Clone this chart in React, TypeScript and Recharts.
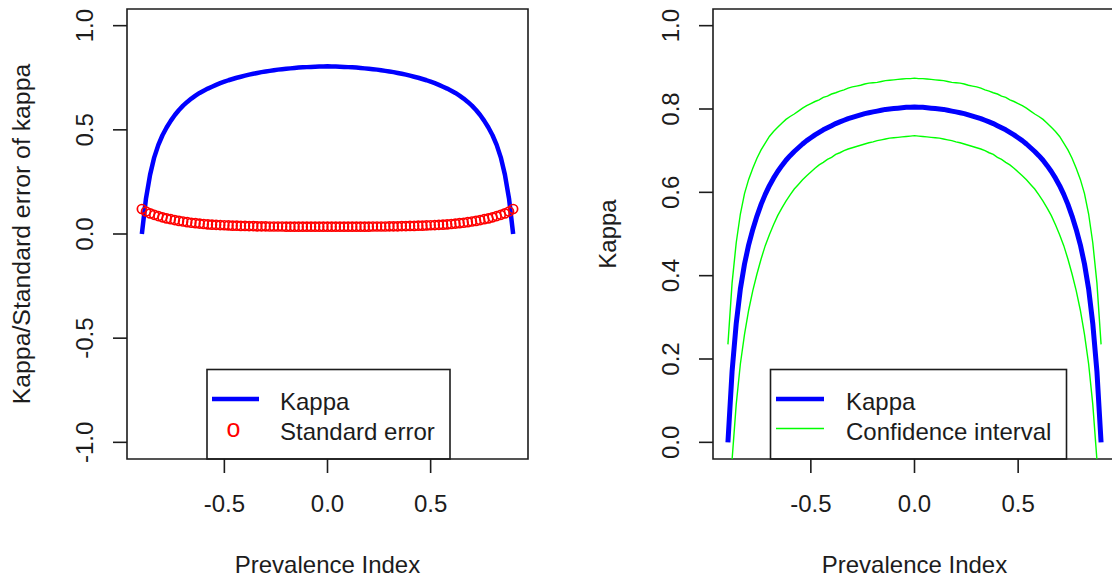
import React from 'react';
import { ComposedChart, Line, XAxis, YAxis, ReferenceArea, Customized } from 'recharts';

// prevalence index grid (step 0.02)
const prevalenceIndex = [
  -0.90, -0.88, -0.86, -0.84, -0.82, -0.80, -0.78, -0.76, -0.74, -0.72,
  -0.70, -0.68, -0.66, -0.64, -0.62, -0.60, -0.58, -0.56, -0.54, -0.52,
  -0.50, -0.48, -0.46, -0.44, -0.42, -0.40, -0.38, -0.36, -0.34, -0.32,
  -0.30, -0.28, -0.26, -0.24, -0.22, -0.20, -0.18, -0.16, -0.14, -0.12,
  -0.10, -0.08, -0.06, -0.04, -0.02, 0.00, 0.02, 0.04, 0.06, 0.08,
  0.10, 0.12, 0.14, 0.16, 0.18, 0.20, 0.22, 0.24, 0.26, 0.28,
  0.30, 0.32, 0.34, 0.36, 0.38, 0.40, 0.42, 0.44, 0.46, 0.48,
  0.50, 0.52, 0.54, 0.56, 0.58, 0.60, 0.62, 0.64, 0.66, 0.68,
  0.70, 0.72, 0.74, 0.76, 0.78, 0.80, 0.82, 0.84, 0.86, 0.88,
  0.90,
];

const kappa = [
  0.000, 0.170, 0.285, 0.368, 0.428, 0.474, 0.511, 0.543, 0.571, 0.595,
  0.616, 0.634, 0.650, 0.664, 0.677, 0.688, 0.698, 0.707, 0.716, 0.724,
  0.731, 0.738, 0.744, 0.750, 0.755, 0.760, 0.765, 0.769, 0.773, 0.777,
  0.780, 0.783, 0.786, 0.789, 0.791, 0.793, 0.795, 0.797, 0.799, 0.800,
  0.801, 0.802, 0.803, 0.804, 0.804, 0.805, 0.804, 0.804, 0.803, 0.802,
  0.801, 0.800, 0.799, 0.797, 0.795, 0.793, 0.791, 0.789, 0.786, 0.783,
  0.780, 0.777, 0.773, 0.769, 0.765, 0.760, 0.755, 0.750, 0.744, 0.738,
  0.731, 0.724, 0.716, 0.707, 0.698, 0.688, 0.677, 0.664, 0.650, 0.634,
  0.616, 0.595, 0.571, 0.543, 0.511, 0.474, 0.428, 0.368, 0.285, 0.170,
  0.000,
];

const kappaSE = [
  0.120, 0.108, 0.099, 0.092, 0.086, 0.080, 0.075, 0.071, 0.067, 0.063,
  0.060, 0.057, 0.054, 0.052, 0.050, 0.048, 0.046, 0.045, 0.044, 0.043,
  0.042, 0.041, 0.040, 0.040, 0.039, 0.039, 0.038, 0.038, 0.037, 0.037,
  0.037, 0.036, 0.036, 0.036, 0.036, 0.035, 0.035, 0.035, 0.035, 0.035,
  0.035, 0.035, 0.035, 0.035, 0.035, 0.035, 0.035, 0.035, 0.035, 0.035,
  0.035, 0.035, 0.035, 0.035, 0.035, 0.035, 0.036, 0.036, 0.036, 0.036,
  0.037, 0.037, 0.037, 0.038, 0.038, 0.039, 0.039, 0.040, 0.040, 0.041,
  0.042, 0.043, 0.044, 0.045, 0.046, 0.048, 0.050, 0.052, 0.054, 0.057,
  0.060, 0.063, 0.067, 0.071, 0.075, 0.080, 0.086, 0.092, 0.099, 0.108,
  0.120,
];

const ciUpper = [
  0.235, 0.382, 0.479, 0.548, 0.597, 0.631, 0.658, 0.682, 0.702, 0.718,
  0.734, 0.746, 0.756, 0.766, 0.775, 0.782, 0.788, 0.795, 0.802, 0.808,
  0.813, 0.818, 0.822, 0.828, 0.831, 0.836, 0.839, 0.843, 0.846, 0.850,
  0.853, 0.855, 0.857, 0.860, 0.862, 0.863, 0.864, 0.866, 0.868, 0.869,
  0.870, 0.871, 0.872, 0.873, 0.873, 0.874, 0.873, 0.873, 0.872, 0.871,
  0.870, 0.869, 0.868, 0.866, 0.864, 0.863, 0.862, 0.860, 0.857, 0.855,
  0.853, 0.850, 0.846, 0.843, 0.839, 0.836, 0.831, 0.828, 0.822, 0.818,
  0.813, 0.808, 0.802, 0.795, 0.788, 0.782, 0.775, 0.766, 0.756, 0.746,
  0.734, 0.718, 0.702, 0.682, 0.658, 0.631, 0.597, 0.548, 0.479, 0.382,
  0.235,
];

const ciLower = [
  -0.235, -0.042, 0.091, 0.188, 0.259, 0.317, 0.364, 0.404, 0.440, 0.472,
  0.498, 0.522, 0.544, 0.562, 0.579, 0.594, 0.608, 0.619, 0.630, 0.640,
  0.649, 0.658, 0.666, 0.672, 0.679, 0.684, 0.691, 0.695, 0.700, 0.704,
  0.707, 0.710, 0.713, 0.716, 0.719, 0.721, 0.724, 0.726, 0.728, 0.730,
  0.731, 0.732, 0.733, 0.734, 0.735, 0.736, 0.735, 0.734, 0.733, 0.732,
  0.731, 0.730, 0.728, 0.726, 0.724, 0.721, 0.719, 0.716, 0.713, 0.710,
  0.707, 0.704, 0.700, 0.695, 0.691, 0.684, 0.679, 0.672, 0.666, 0.658,
  0.649, 0.640, 0.630, 0.619, 0.608, 0.594, 0.579, 0.562, 0.544, 0.522,
  0.498, 0.472, 0.440, 0.404, 0.364, 0.317, 0.259, 0.188, 0.091, -0.042,
  -0.235,
];

const xTicks = [-0.5, 0, 0.5];
const leftYTicks = [-1, -0.5, 0, 0.5, 1];
const rightYTicks = [0, 0.2, 0.4, 0.6, 0.8, 1];

const rows = prevalenceIndex.map((pi, i) => ({
  pi,
  kappa: kappa[i],
  se: kappaSE[i],
  upper: ciUpper[i],
  lower: ciLower[i],
}));

const FONT = '"Liberation Sans", Arial, Helvetica, sans-serif';
const INK = '#1c1c1c';
const X_DOMAIN: [number, number] = [-0.972, 0.972];
const LEFT_Y: [number, number] = [-1.08, 1.08];
const RIGHT_Y: [number, number] = [-0.04, 1.04];

const XTick = (props: any) => {
  const { x, y, payload } = props;
  return (
    <text x={x} y={y + 39} textAnchor="middle" fontSize={24} fontFamily={FONT} fill={INK}>
      {Number(payload.value).toFixed(1)}
    </text>
  );
};

// R style: y labels run parallel to the axis
const YTick = (props: any) => {
  const { x, y, payload } = props;
  const bx = x - 20;
  return (
    <text x={bx} y={y} transform={`rotate(-90 ${bx} ${y})`} textAnchor="middle" fontSize={24} fontFamily={FONT} fill={INK}>
      {Number(payload.value).toFixed(1)}
    </text>
  );
};

const tickLine = { stroke: INK, strokeWidth: 1.6 };

const LeftDecor = () => (
  <g fontFamily={FONT} fontSize={24} fill={INK}>
    <text x={327.5} y={573} textAnchor="middle">Prevalence Index</text>
    <text x={30} y={234} transform="rotate(-90 30 234)" textAnchor="middle" fontSize={24.8}>
      Kappa/Standard error of kappa
    </text>
    <rect x={207} y={369.5} width={243} height={89.5} fill="#fff" stroke={INK} strokeWidth={1.6} />
    <line x1={212} x2={259} y1={399} y2={399} stroke="#0000ff" strokeWidth={4.5} />
    <text x={233.5} y={436.5} textAnchor="middle" fill="#ff0000" fontSize={25}>o</text>
    <text x={280} y={410}>Kappa</text>
    <text x={280} y={440}>Standard error</text>
  </g>
);

const RightDecor = () => (
  <g fontFamily={FONT} fontSize={24} fill={INK}>
    <text x={358.5} y={573} textAnchor="middle">Prevalence Index</text>
    <text x={60} y={234} transform="rotate(-90 60 234)" textAnchor="middle">Kappa</text>
    <rect x={214.5} y={369.5} width={296} height={89.5} fill="#fff" stroke={INK} strokeWidth={1.6} />
    <line x1={220} x2={268} y1={399} y2={399} stroke="#0000ff" strokeWidth={4.5} />
    <line x1={220} x2={268} y1={428.5} y2={428.5} stroke="#00ff00" strokeWidth={1.4} />
    <text x={290} y={410}>Kappa</text>
    <text x={290} y={440}>Confidence interval</text>
  </g>
);

export default function App() {
  return (
    <div style={{ position: 'absolute', left: 0, top: 0, width: 1112, height: 580, overflow: 'hidden', background: '#fff' }}>
      <div style={{ position: 'absolute', left: 0, top: 0 }}>
        <ComposedChart width={556} height={580} data={rows} margin={{ top: 9, right: 28, bottom: 0, left: 0 }}>
          <XAxis dataKey="pi" type="number" domain={X_DOMAIN} allowDataOverflow ticks={xTicks} interval={0}
            height={121} tickSize={14} tickMargin={0} axisLine={false} tickLine={tickLine} tick={<XTick />} />
          <YAxis type="number" domain={LEFT_Y} allowDataOverflow ticks={leftYTicks} interval={0}
            width={127} tickSize={14} tickMargin={0} axisLine={false} tickLine={tickLine} tick={<YTick />} />
          <ReferenceArea x1={X_DOMAIN[0]} x2={X_DOMAIN[1]} y1={LEFT_Y[0]} y2={LEFT_Y[1]}
            fill="none" fillOpacity={0} stroke={INK} strokeWidth={1.6} ifOverflow="visible" />
          <Line dataKey="se" type="linear" stroke="none" isAnimationActive={false} activeDot={false}
            dot={{ r: 4.5, stroke: '#ff0000', strokeWidth: 1.7, fill: 'none' }} />
          <Line dataKey="kappa" type="linear" stroke="#0000ff" strokeWidth={4.5} strokeLinejoin="round"
            dot={false} activeDot={false} isAnimationActive={false} />
          <Customized component={LeftDecor} />
        </ComposedChart>
      </div>
      <div style={{ position: 'absolute', left: 556, top: 0 }}>
        <ComposedChart width={600} height={580} data={rows} margin={{ top: 9, right: 40, bottom: 0, left: 0 }}>
          <XAxis dataKey="pi" type="number" domain={X_DOMAIN} allowDataOverflow ticks={xTicks} interval={0}
            height={121} tickSize={14} tickMargin={0} axisLine={false} tickLine={tickLine} tick={<XTick />} />
          <YAxis type="number" domain={RIGHT_Y} allowDataOverflow ticks={rightYTicks} interval={0}
            width={157} tickSize={14} tickMargin={0} axisLine={false} tickLine={tickLine} tick={<YTick />} />
          <ReferenceArea x1={X_DOMAIN[0]} x2={X_DOMAIN[1]} y1={RIGHT_Y[0]} y2={RIGHT_Y[1]}
            fill="none" fillOpacity={0} stroke={INK} strokeWidth={1.6} ifOverflow="visible" />
          <Line dataKey="upper" type="linear" stroke="#00ff00" strokeWidth={1.4}
            dot={false} activeDot={false} isAnimationActive={false} />
          <Line dataKey="lower" type="linear" stroke="#00ff00" strokeWidth={1.4}
            dot={false} activeDot={false} isAnimationActive={false} />
          <Line dataKey="kappa" type="linear" stroke="#0000ff" strokeWidth={5} strokeLinejoin="round"
            dot={false} activeDot={false} isAnimationActive={false} />
          <Customized component={RightDecor} />
        </ComposedChart>
      </div>
    </div>
  );
}
